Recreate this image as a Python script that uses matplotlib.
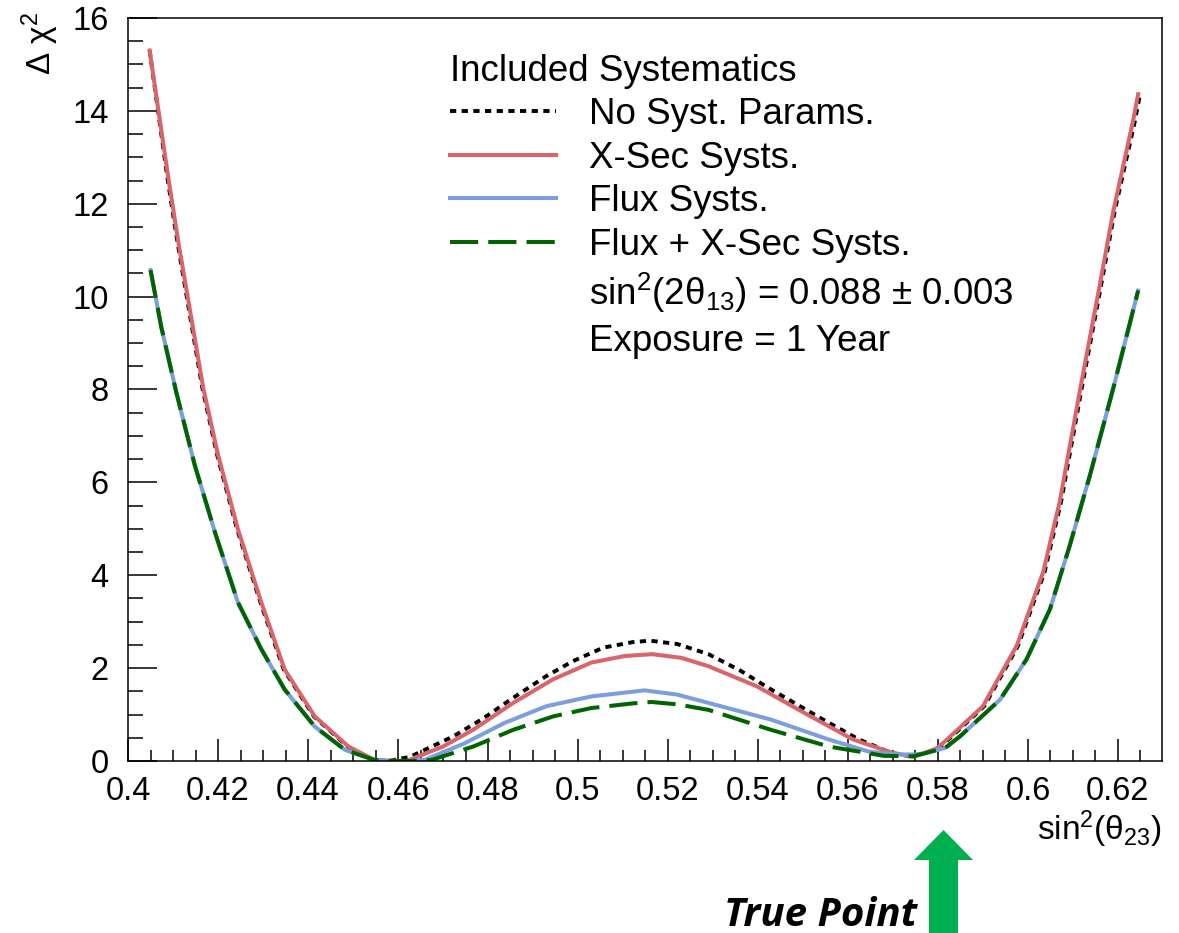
import matplotlib
matplotlib.use("Agg")
import matplotlib.pyplot as plt
from matplotlib.lines import Line2D
from matplotlib.patches import FancyArrow
from matplotlib.ticker import MultipleLocator

plt.rcParams['font.family'] = ['Liberation Sans', 'DejaVu Sans']
plt.rcParams['mathtext.fontset'] = 'custom'
plt.rcParams['mathtext.rm'] = 'Liberation Sans'
plt.rcParams['mathtext.it'] = 'Liberation Sans:italic'
plt.rcParams['mathtext.sf'] = 'Liberation Sans'

# values
x_nosyst = [0.4048, 0.4087, 0.4109, 0.4165, 0.4198, 0.4242, 0.4294, 0.4346, 0.4413,
            0.4488, 0.4545, 0.4580, 0.4627, 0.4723, 0.4790, 0.4856, 0.4930, 0.4989,
            0.5056, 0.5122, 0.5160, 0.5220, 0.5290, 0.5360, 0.5429, 0.5545, 0.5625,
            0.5697, 0.5740, 0.5800, 0.5822, 0.5903, 0.5978, 0.6037, 0.6074, 0.6119,
            0.6159, 0.6193, 0.6237, 0.6248]
y_nosyst = [15.30, 12.59, 11.22, 8.04, 6.59, 5.00, 3.42, 1.97, 0.96,
            0.31, 0.02, 0.00, 0.09, 0.53, 0.92, 1.36, 1.83, 2.15,
            2.44, 2.56, 2.59, 2.52, 2.30, 1.95, 1.54, 0.89, 0.46,
            0.17, 0.10, 0.25, 0.45, 1.18, 2.48, 4.07, 5.60, 8.00,
            10.06, 11.85, 13.75, 14.30]

x_xsec = [0.4048, 0.4089, 0.4111, 0.4167, 0.4200, 0.4244, 0.4296, 0.4348, 0.4415,
          0.4490, 0.4548, 0.4600, 0.4619, 0.4700, 0.4767, 0.4856, 0.4945, 0.5030,
          0.5104, 0.5165, 0.5230, 0.5290, 0.5397, 0.5504, 0.5612, 0.5697, 0.5746,
          0.5797, 0.5819, 0.5900, 0.5975, 0.6034, 0.6071, 0.6116, 0.6156, 0.6190,
          0.6234, 0.6245]
y_xsec = [15.30, 12.59, 11.22, 8.04, 6.59, 5.00, 3.42, 1.97, 0.96,
          0.31, 0.02, 0.00, 0.00, 0.31, 0.67, 1.25, 1.76, 2.12,
          2.26, 2.30, 2.22, 2.04, 1.61, 1.03, 0.46, 0.18, 0.09,
          0.27, 0.45, 1.18, 2.48, 4.07, 5.60, 8.00, 10.06, 11.85,
          13.80, 14.36]

x_flux = [0.4050, 0.4074, 0.4107, 0.4148, 0.4193, 0.4244, 0.4296, 0.4348, 0.4415,
          0.4482, 0.4548, 0.4580, 0.4620, 0.4659, 0.4748, 0.4837, 0.4930, 0.5030,
          0.5148, 0.5220, 0.5290, 0.5429, 0.5558, 0.5647, 0.5710, 0.5760, 0.5816,
          0.5849, 0.5938, 0.5997, 0.6049, 0.6093, 0.6138, 0.6190, 0.6245]
y_flux = [10.57, 9.34, 7.95, 6.38, 4.93, 3.42, 2.41, 1.54, 0.74,
          0.24, 0.02, 0.00, 0.00, 0.02, 0.38, 0.82, 1.18, 1.39,
          1.52, 1.43, 1.25, 0.89, 0.46, 0.20, 0.14, 0.14, 0.28,
          0.53, 1.32, 2.19, 3.27, 4.64, 6.16, 8.04, 10.13]

x_both = [0.4050, 0.4074, 0.4107, 0.4148, 0.4193, 0.4244, 0.4296, 0.4348, 0.4415,
          0.4482, 0.4548, 0.4580, 0.4630, 0.4674, 0.4767, 0.4856, 0.4945, 0.5030,
          0.5122, 0.5163, 0.5220, 0.5290, 0.5429, 0.5558, 0.5680, 0.5745, 0.5816,
          0.5849, 0.5938, 0.5997, 0.6049, 0.6093, 0.6138, 0.6190, 0.6245]
y_both = [10.57, 9.34, 7.95, 6.38, 4.93, 3.42, 2.41, 1.54, 0.74,
          0.24, 0.02, 0.00, 0.00, 0.02, 0.31, 0.67, 0.96, 1.14,
          1.24, 1.27, 1.22, 1.10, 0.67, 0.31, 0.11, 0.10, 0.28,
          0.53, 1.32, 2.19, 3.27, 4.64, 6.16, 8.04, 10.13]

labels = ['No Syst. Params.', 'X-Sec Systs.', 'Flux Systs.', 'Flux + X-Sec Systs.']
extra_lines = [r'sin$^{2}$(2$\mathrm{θ}_{13}$) = 0.088 $\pm$ 0.003', 'Exposure = 1 Year']

FS = 23.5      # axis text
LFS = 26.5     # legend text

fig = plt.figure(figsize=(11.79, 9.33), dpi=100)
ax = fig.add_axes([0.1086, 0.1844, 0.8770, 0.7963])

l0, = ax.plot(x_nosyst, y_nosyst, color='black', lw=2.8, dashes=(1.6, 1.4))
l1, = ax.plot(x_xsec, y_xsec, color='#d9646a', lw=2.9)
l2, = ax.plot(x_flux, y_flux, color='#7b9ede', lw=2.9)
l3, = ax.plot(x_both, y_both, color='#006400', lw=2.9, dashes=(7, 2.5))

ax.set_xlim(0.4, 0.6298)
ax.set_ylim(0, 16)
ax.xaxis.set_major_locator(MultipleLocator(0.02))
ax.xaxis.set_minor_locator(MultipleLocator(0.005))
ax.yaxis.set_major_locator(MultipleLocator(2))
ax.yaxis.set_minor_locator(MultipleLocator(0.5))
ax.xaxis.set_major_formatter(plt.FuncFormatter(lambda v, p: ('%g' % round(v, 3))))
ax.tick_params(axis='both', which='both', direction='in', top=False, right=False,
               labelsize=FS, width=1.1)
ax.tick_params(axis='x', which='major', length=16, pad=11)
ax.tick_params(axis='x', which='minor', length=8)
ax.tick_params(axis='y', which='major', length=21, pad=14)
ax.tick_params(axis='y', which='minor', length=11)
for s in ax.spines.values():
    s.set_linewidth(1.1)

blank = Line2D([], [], color='none')
leg = ax.legend([l0, l1, l2, l3, blank, blank], labels + extra_lines,
                title='Included Systematics', title_fontsize=LFS, fontsize=LFS,
                loc='upper left', bbox_to_anchor=(0.311, 0.952), frameon=False,
                borderpad=0, borderaxespad=0, handlelength=2.9, handletextpad=0.9,
                labelspacing=0.23, alignment='left')

fig.text(40 / 1179, 1 - 12 / 933, r'$\Delta\ \mathrm{χ}^{2}$', rotation=90,
         ha='center', va='top', fontsize=24)
fig.text(1162 / 1179, 1 - 840 / 933, r'sin$^{2}$($\mathrm{θ}_{23}$)',
         ha='right', va='baseline', fontsize=24)

fig.text(917 / 1179, 1 - 926 / 933, 'True Point', ha='right', va='baseline',
         fontsize=29, fontfamily='Open Sans', fontweight='bold', fontstyle='italic')
fig.add_artist(FancyArrow(943.5 / 1179, 0.0, 0.0, 103 / 933, width=29 / 1179,
                          head_width=59 / 1179, head_length=30 / 933,
                          length_includes_head=True, color='#00b050', lw=0,
                          transform=fig.transFigure))

fig.savefig('out.png', dpi=100)
